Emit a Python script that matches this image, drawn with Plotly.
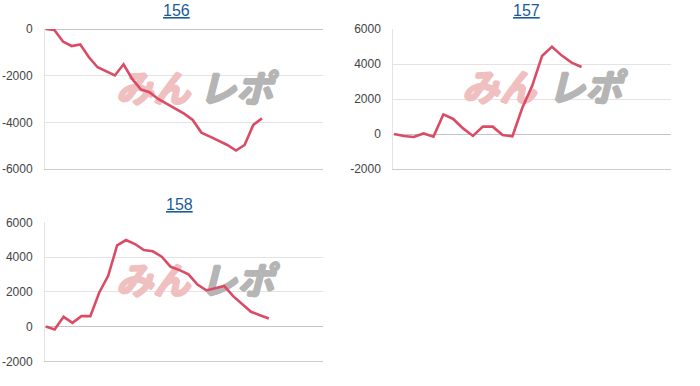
import plotly.graph_objects as go

W, H = 700, 386

titles = ["156", "157", "158"]

values_156 = [0, -40, -540, -730, -660, -1210, -1640, -1800, -1990, -1510,
              -2140, -2590, -2710, -3000, -3200, -3410, -3630, -3900, -4440,
              -4610, -4790, -4970, -5210, -4970, -4110, -3830]
values_157 = [0, -110, -170, 30, -150, 1120, 860, 320, -110, 420, 420, -60,
              -130, 1500, 2750, 4460, 4990, 4480, 4080, 3830]
values_158 = [0, -170, 560, 210, 600, 600, 1960, 2920, 4670, 4980, 4750, 4400,
              4330, 4020, 3440, 3250, 3000, 2420, 2080, 2210, 2330, 1750, 1290,
              850, 650, 460]

y_ticks_156 = [0, -2000, -4000, -6000]
y_ticks_157 = [6000, 4000, 2000, 0, -2000]
y_ticks_158 = [6000, 4000, 2000, 0, -2000]

series = [values_156, values_157, values_158]
yticks = [y_ticks_156, y_ticks_157, y_ticks_158]

# layout boxes in pixels: (left, right, top, bottom)
boxes = [(45, 323, 29, 169), (393.3, 670.7, 29, 169), (45, 323.3, 222.3, 361.3)]
yranges = [[-6000, 0], [-2000, 6000], [-2000, 6000]]
xranges = [[-0.08, 32.06], [-0.07, 28.03], [-0.08, 31.1]]
# watermark pixel positions: (mi-n center x, repo center x, center y)
wm = [(153, 236, 93), (499, 585, 92), (153, 237, 285)]
title_px = [(177, 11), (526, 11), (179, 204)]

LINE = "#db4b66"
PINK = "#f0c0c0"
GRAY = "#b5b5b5"
fig = go.Figure()

def px2data(i, px, py):
    l, r, t, b = boxes[i]
    x0, x1 = xranges[i]
    y0, y1 = yranges[i]
    dx = x0 + (px - l) / (r - l) * (x1 - x0)
    dy = y0 + (b - py) / (b - t) * (y1 - y0)
    return dx, dy

def thick(c):
    return ", ".join(f"{a}px {b}px 0 {c}" for a, b in [(1, 0), (-1, 0), (0, 1), (0, -1), (1, 1)])

for i in range(3):
    sfx = "" if i == 0 else str(i + 1)
    xa, ya = "x" + sfx, "y" + sfx
    m1x, m2x, my = wm[i]
    ax1, ay1 = px2data(i, m1x, my)
    ax2, ay2 = px2data(i, m2x, my)
    fig.add_trace(go.Scatter(x=[ax1], y=[ay1], mode="text", text=["みん"],
                             textfont=dict(family="Noto Sans CJK JP", size=37, color=PINK,
                                           weight="bold", style="italic", shadow=thick(PINK)),
                             xaxis=xa, yaxis=ya, showlegend=False, hoverinfo="skip",
                             cliponaxis=False))
    fig.add_trace(go.Scatter(x=[ax2], y=[ay2], mode="text", text=["レポ"],
                             textfont=dict(family="Noto Sans CJK JP", size=37, color=GRAY,
                                           weight="bold", style="italic", shadow=thick(GRAY)),
                             xaxis=xa, yaxis=ya, showlegend=False, hoverinfo="skip",
                             cliponaxis=False))
    vals = series[i]
    fig.add_trace(go.Scatter(x=list(range(len(vals))), y=vals, mode="lines",
                             line=dict(color=LINE, width=2.6), xaxis=xa, yaxis=ya,
                             showlegend=False, cliponaxis=False))
    l, r, t, b = boxes[i]
    fig.layout["xaxis" + sfx] = dict(domain=[l / W, r / W], range=xranges[i],
                                     showgrid=False, zeroline=False, showticklabels=False,
                                     showline=True, linecolor="#cccccc", linewidth=1,
                                     anchor=ya, fixedrange=True, automargin=False)
    fig.layout["yaxis" + sfx] = dict(domain=[1 - b / H, 1 - t / H], range=yranges[i],
                                     tickvals=yticks[i], ticktext=[str(v) for v in yticks[i]],
                                     showgrid=True, gridcolor="#e3e3e3", gridwidth=1,
                                     zeroline=True, zerolinecolor="#c4c4c4", zerolinewidth=1,
                                     showline=True, linecolor="#e3e3e3", linewidth=1,
                                     tickfont=dict(family="Arial, Liberation Sans", size=12, color="#444444"),
                                     ticklabelstandoff=9, anchor=xa, fixedrange=True,
                                     automargin=False)
    tx, ty = title_px[i]
    fig.add_annotation(x=tx / W, y=1 - ty / H, xref="paper", yref="paper",
                       text=titles[i], showarrow=False, xanchor="center", yanchor="middle",
                       font=dict(family="Arial, Liberation Sans", size=16, color="#1b5b98",
                                 lineposition="under"))

fig.update_layout(width=W, height=H, margin=dict(l=0, r=0, t=0, b=0, pad=0, autoexpand=False),
                  paper_bgcolor="white", plot_bgcolor="white", showlegend=False)

fig.write_html("out.html")
